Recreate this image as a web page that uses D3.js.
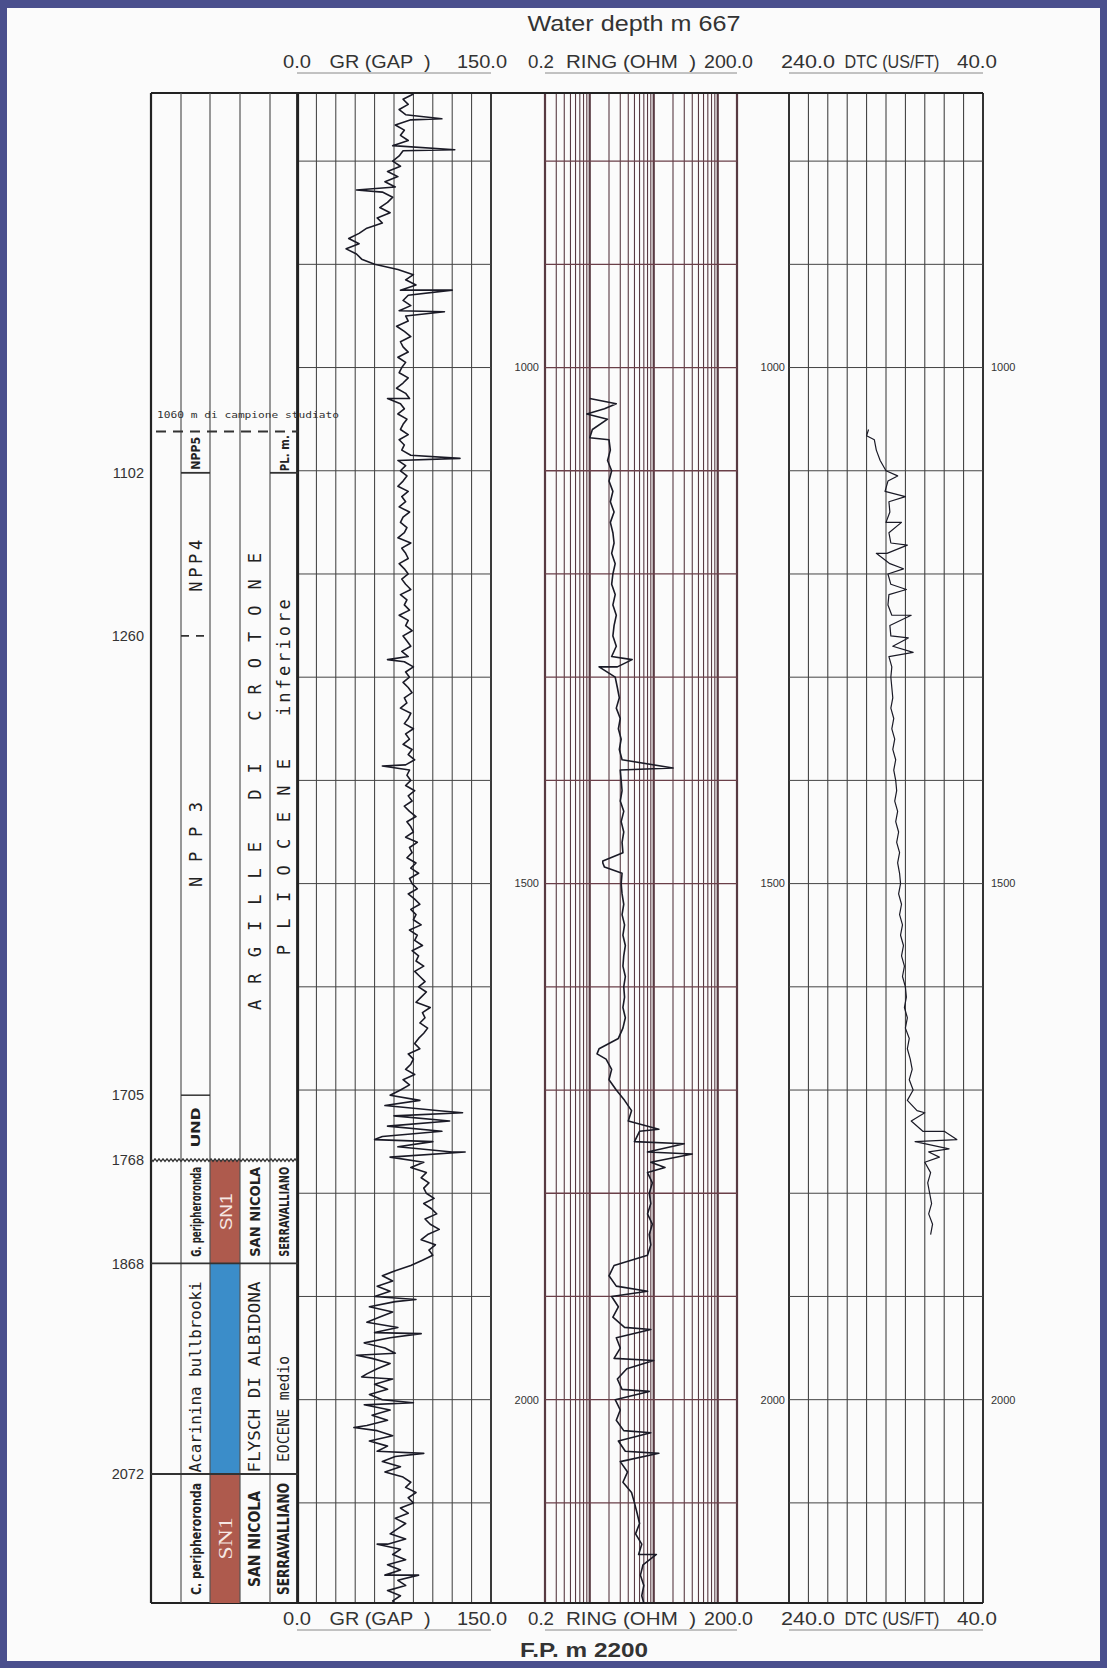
<!DOCTYPE html>
<html>
<head>
<meta charset="UTF-8" />
<script src="https://d3js.org/d3.v7.min.js"></script>
<style>
  body { margin: 0; background: #fff; }
  svg { display: block; }
  text { white-space: pre; }
</style>
</head>
<body>
<div id="chart"></div>
<script>
var W = 1107, H = 1668;

// ---- data -------------------------------------------------------------
const depthTop = 734, depthBottom = 2197;
const depthGrid = d3.range(800, 2200, 100);
const depthLabels = [1000, 1500, 2000];
const markerDepths = [1102, 1260, 1705, 1768, 1868, 2072];

// GR (GAPI), sampled every 5 m from 735 to 2200
const grDepth = d3.range(735, 2201, 5);
const grValues = [
  90, 82, 86, 79, 84, 88, 76, 83, 80, 86, 74, 82, 79,
  74, 80, 70, 78, 68, 76, 66, 74, 70, 64, 72, 62, 66, 54, 48, 40, 48, 38, 46, 50,
  60, 78, 90, 84, 92, 80, 86, 82, 88, 79, 84, 86, 77, 83, 88, 80, 82, 86, 78, 84,
  81, 79, 86, 82, 77, 84, 87, 80, 83, 78, 85, 82, 80, 86, 79, 83, 81, 88, 78, 84,
  80, 85, 82, 78, 86, 81, 84, 79, 87, 82, 80, 85, 83, 78, 88, 81, 84, 86, 79, 83,
  86, 81, 84, 88, 80, 85, 83, 87, 79, 86, 84, 89, 82, 85, 88, 81, 86, 83, 90, 84,
  87, 82, 86, 89, 83, 85, 80, 88, 86, 83, 90, 84, 87, 82, 89, 86, 91, 84, 87, 85,
  88, 84, 91, 86, 89, 83, 87, 92, 85, 88, 90, 84, 93, 87, 89, 85, 92, 88, 94, 87,
  89, 93, 86, 91, 95, 88, 92, 90, 96, 87, 93, 91, 97, 89, 94, 92, 98, 91, 95, 99,
  94, 100, 96, 92, 103, 97, 99, 95, 101, 98, 94, 91, 95, 86, 90, 88, 84, 91, 82, 87,
  80, 72, 95, 68, 110, 75, 118, 70, 112, 66, 105, 78, 120, 72, 98, 88, 100, 96, 102, 98,
  100, 106, 98, 104, 108, 99, 103, 110, 101, 96, 107, 102, 105, 97, 88, 76, 66, 74, 62, 72,
  60, 76, 56, 74, 64, 54, 78, 60, 72, 52, 68, 76, 58, 72, 62, 54, 74, 60, 70, 56,
  66, 52, 72, 58, 70, 54, 62, 74, 56, 70, 62, 76, 66, 80, 68, 82, 88, 84, 92, 86,
  90, 80, 86, 76, 84, 78, 72, 84, 70, 80, 74, 84, 70, 80, 68, 78, 84, 70, 80, 74,
  78
];
const grSpikes = [[759, 112], [789, 122], [828, 46], [925, 120], [946, 114], [1030, 70],
  [1088, 126], [1283, 70], [1386, 66], [1722, 128], [1748, 60], [1760, 130], [1903, 92],
  [1936, 96], [1957, 46], [1978, 50], [2003, 90], [2027, 44], [2052, 98], [2140, 62], [2170, 94]];

// RING (ohm), sampled every 10 m from 1030 to 2200
const ringDepth = d3.range(1030, 2201, 10);
const ringValues = [
  1.0, 1.7, 1.9, 1.1, 2.0, 2.1, 1.9, 2.2,
  2.0, 2.3, 2.1, 2.4, 2.1, 2.3, 2.4, 2.2, 2.5, 2.3,
  2.2, 2.5, 2.3, 2.6, 2.4, 2.3, 2.6, 2.2, 2.7, 2.5,
  2.7, 2.9, 2.6, 3.0, 2.8, 3.1, 2.9, 3.2, 3.0, 3.1,
  3.2, 3.0, 3.4, 3.1, 3.4, 3.2, 3.3, 1.6, 3.2, 3.1,
  3.2, 3.4, 3.2, 3.5, 3.3, 3.6, 3.4, 3.3, 3.6, 3.4,
  3.5, 3.3, 3.6, 3.3, 2.8, 1.4, 1.8, 2.2, 2.0, 2.6,
  3.5, 4.5, 4.0, 6.0, 5.0, 8.0, 9.0, 8.0, 9.5, 8.5,
  9.0, 8.0, 9.5, 8.5, 9.0, 8.0, 2.4, 2.0, 2.6, 2.2,
  2.8, 2.3, 3.5, 2.6, 3.0, 2.4, 3.8, 2.7, 3.2, 2.5,
  3.0, 2.6, 3.4, 2.8, 3.6, 3.0, 3.9, 3.3, 4.5, 5.0,
  5.5, 6.0, 5.2, 6.5, 5.8, 6.8, 6.2, 7.0, 6.5, 7.2
];
const ringSpikes = [[1035, 2.6], [1045, 0.9], [1068, 1.0], [1283, 4.6], [1290, 1.4],
  [1388, 20], [1478, 1.6], [1484, 1.7], [1665, 1.3], [1738, 12], [1752, 30], [1762, 40],
  [1775, 15], [1895, 8], [1932, 9], [1962, 10], [1992, 8.5], [2032, 9], [2052, 12], [2150, 11]];

// DTC (us/ft), sampled every 10 m from 1060 to 1840
const dtcDepth = d3.range(1060, 1841, 10);
const dtcValues = [
  158, 152, 150, 146, 140,
  138, 141, 137, 136, 140, 137, 135, 139, 136, 138,
  135, 137, 138, 134, 136, 135, 133, 137, 134, 135,
  134, 133, 135, 132, 134, 131, 133, 130, 132, 130,
  129, 131, 128, 130, 127, 129, 126, 128, 126, 125,
  127, 124, 126, 123, 125, 122, 124, 121, 123, 120,
  119, 121, 118, 120, 116, 118, 115, 113, 116, 112,
  118, 108, 114, 102, 110, 96, 100, 94, 97, 95,
  93, 96, 92, 94
];
const dtcSpikes = [[1066, 160], [1105, 128], [1125, 120], [1150, 124], [1172, 118], [1180, 150],
  [1195, 122], [1215, 119], [1240, 114], [1262, 117], [1276, 112], [1722, 100], [1740, 80],
  [1748, 67], [1757, 75], [1765, 85]];

// stratigraphy columns
const bioNames = ["NPP5", "NPP4", "N P P 3", "UND", "G. peripheroronda", "Acarinina bullbrooki", "C. peripheroronda"];
const bioMid = [1083, 1192, 1462, 1736, 1818, 1978, 2135];
const seqNames = ["SN1", "", "SN1"];
const seqTop = [1768, 1868, 2072];
const seqBase = [1868, 2072, 2197];
const formNames = ["A R G I L L E   D I   C R O T O N E", "SAN NICOLA", "FLYSCH DI ALBIDONA", "SAN NICOLA"];
const formMid = [1401, 1818, 1978, 2135];
const ageNames = ["PL. m.", "P L I O C E N E   inferiore", "SERRAVALLIANO", "EOCENE medio", "SERRAVALLIANO"];
const ageMid = [1083, 1397, 1818, 2009, 2135];
const sampleTop = 1062;

const trackHeaders = [["0.0", "GR (GAP  )", "150.0"], ["0.2", "RING (OHM  )", "200.0"], ["240.0", "DTC (US/FT)", "40.0"]];

// ---- layout -----------------------------------------------------------
var svg = d3.select("#chart").append("svg").attr("width", W).attr("height", H);
svg.append("rect").attr("width", W).attr("height", H).attr("fill", "#4a4f8d");
svg.append("rect").attr("x", 7).attr("y", 8).attr("width", W - 14).attr("height", H - 15).attr("fill", "#fbfbfb");

var y = d3.scaleLinear().domain([depthTop, depthBottom]).range([93, 1603]);
var xGR = d3.scaleLinear().domain([0, 150]).range([297, 491]);
var xRing = d3.scaleLog().domain([0.2, 200]).range([545, 737]);
var xDTC = d3.scaleLinear().domain([240, 40]).range([789, 983]);
var colX = [151, 181, 210, 240, 270, 298];
var font = "'Liberation Sans', Arial, sans-serif";
var mono = "'DejaVu Sans Mono', 'Liberation Mono', monospace";
var narrow = "'Liberation Sans Narrow', 'DejaVu Sans Condensed', 'Liberation Sans', sans-serif";

// clip paths for each track
var defs = svg.append("defs");
[["clipGR", xGR], ["clipRing", xRing], ["clipDTC", xDTC]].forEach(function (c) {
  var r = c[1].range();
  defs.append("clipPath").attr("id", c[0]).append("rect")
    .attr("x", r[0]).attr("y", y.range()[0]).attr("width", r[1] - r[0]).attr("height", y.range()[1] - y.range()[0]);
});

// ---- grids ------------------------------------------------------------
function hGrid(scale, color, w) {
  var r = scale.range();
  svg.append("g").selectAll("line").data(depthGrid).join("line")
    .attr("x1", r[0]).attr("x2", r[1])
    .attr("y1", d => y(d)).attr("y2", d => y(d))
    .attr("stroke", color).attr("stroke-width", w);
}

// GR grid
svg.append("g").selectAll("line").data(d3.range(0, 151, 15)).join("line")
  .attr("x1", d => xGR(d)).attr("x2", d => xGR(d))
  .attr("y1", y.range()[0]).attr("y2", y.range()[1])
  .attr("stroke", "#3a3a3a").attr("stroke-width", d => (d === 0 || d === 150) ? 2 : 1);
hGrid(xGR, "#444", 1);

// RING grid (log)
svg.append("g").selectAll("line").data(xRing.ticks()).join("line")
  .attr("x1", d => xRing(d)).attr("x2", d => xRing(d))
  .attr("y1", y.range()[0]).attr("y2", y.range()[1])
  .attr("stroke", "#583a42")
  .attr("stroke-width", d => [0.2, 1, 10, 100, 200].includes(d) ? 2.2 : 1.1);
hGrid(xRing, "#6a3f48", 1.3);

// DTC grid
svg.append("g").selectAll("line").data(d3.range(40, 241, 20)).join("line")
  .attr("x1", d => xDTC(d)).attr("x2", d => xDTC(d))
  .attr("y1", y.range()[0]).attr("y2", y.range()[1])
  .attr("stroke", "#333").attr("stroke-width", d => (d === 40 || d === 240) ? 2 : 1);
hGrid(xDTC, "#444", 1);

// continuous top / bottom borders
[y.range()[0], y.range()[1]].forEach(function (yy) {
  svg.append("line").attr("x1", colX[0]).attr("x2", xDTC.range()[1])
    .attr("y1", yy).attr("y2", yy).attr("stroke", "#222").attr("stroke-width", 2.2);
});

// depth labels beside tracks
[[xRing.range()[0] - 6, "end"], [xDTC.range()[0] - 4, "end"], [xDTC.range()[1] + 8, "start"]].forEach(function (p) {
  svg.append("g").selectAll("text").data(depthLabels).join("text")
    .attr("x", p[0]).attr("y", d => y(d)).attr("dy", "0.35em")
    .attr("text-anchor", p[1]).style("font-family", font).style("font-size", "11px")
    .attr("fill", "#333").text(d => d);
});

// ---- curves -----------------------------------------------------------
function mergeCurve(depths, values, spikes) {
  var pts = depths.map((d, i) => ({ d: d, v: values[i] }));
  spikes.forEach(s => pts.push({ d: s[0], v: s[1] }));
  return pts.sort((a, b) => a.d - b.d);
}
function drawCurve(pts, xs, clip, w) {
  svg.append("path").datum(pts)
    .attr("clip-path", "url(#" + clip + ")")
    .attr("fill", "none").attr("stroke", "#1a1a26").attr("stroke-width", w)
    .attr("stroke-linejoin", "round")
    .attr("d", d3.line().x(p => xs(p.v)).y(p => y(p.d)));
}
drawCurve(mergeCurve(grDepth, grValues, grSpikes), xGR, "clipGR", 1.6);
drawCurve(mergeCurve(ringDepth, ringValues, ringSpikes), xRing, "clipRing", 1.6);
drawCurve(mergeCurve(dtcDepth, dtcValues, dtcSpikes), xDTC, "clipDTC", 1.2);

// ---- stratigraphic columns ---------------------------------------------
// colour fills of sequence column
seqNames.forEach(function (n, i) {
  svg.append("rect").attr("x", colX[2]).attr("y", y(seqTop[i]))
    .attr("width", colX[3] - colX[2]).attr("height", y(seqBase[i]) - y(seqTop[i]))
    .attr("fill", n === "SN1" ? "#ae5a4d" : "#3b8dc9");
});

// column verticals
svg.append("g").selectAll("line").data(colX).join("line")
  .attr("x1", d => d).attr("x2", d => d)
  .attr("y1", y.range()[0]).attr("y2", y.range()[1])
  .attr("stroke", (d, i) => (i === 0 || i === 5) ? "#222" : "#555")
  .attr("stroke-width", (d, i) => (i === 0 || i === 5) ? 2.2 : 1.2);

// horizontal boundaries
function hline(x1, x2, depth, w) {
  svg.append("line").attr("x1", x1).attr("x2", x2).attr("y1", y(depth)).attr("y2", y(depth))
    .attr("stroke", "#333").attr("stroke-width", w || 1.5);
}
hline(colX[1], colX[2], markerDepths[0], 1.8);
hline(colX[4], colX[5], markerDepths[0], 1.8);
hline(colX[1], colX[2], markerDepths[2], 1.5);
hline(colX[0], colX[5], markerDepths[4], 1.8);
hline(colX[0], colX[5], markerDepths[5], 1.8);
// dashed marks at 1260
svg.append("line").attr("x1", colX[1]).attr("x2", colX[2]).attr("y1", y(markerDepths[1])).attr("y2", y(markerDepths[1]))
  .attr("stroke", "#333").attr("stroke-width", 1.8).attr("stroke-dasharray", "8,7");
// wavy unconformity at 1768
var wav = d3.range(colX[0], colX[5] + 0.1, 2).map((x, i) => [x, y(markerDepths[3]) + (i % 2 ? 1.3 : -1.3)]);
svg.append("path").attr("d", d3.line()(wav)).attr("fill", "none").attr("stroke", "#333").attr("stroke-width", 1.3);

// dashed line of studied sample
svg.append("line").attr("x1", colX[0] + 5).attr("x2", colX[5]).attr("y1", y(sampleTop)).attr("y2", y(sampleTop))
  .attr("stroke", "#333").attr("stroke-width", 2).attr("stroke-dasharray", "10,7");
svg.append("text").attr("x", colX[0] + 6).attr("y", y(sampleTop) - 14)
  .style("font-family", mono).style("font-size", "9.5px").attr("fill", "#333")
  .attr("textLength", 182).attr("lengthAdjust", "spacingAndGlyphs")
  .text("1060 m di campione studiato");

// marker depth labels
svg.append("g").selectAll("text").data(markerDepths).join("text")
  .attr("x", 144).attr("y", d => y(d)).attr("dy", "0.35em").attr("text-anchor", "end")
  .style("font-family", font).style("font-size", "14.5px").attr("fill", "#333").text(d => d);

function vlabel(x, depth, txt, o) {
  svg.append("text")
    .attr("transform", "translate(" + x + "," + y(depth) + ") rotate(-90)")
    .attr("text-anchor", "middle").attr("dominant-baseline", "central")
    .style("font-family", o.font).style("font-size", o.size + "px")
    .style("font-weight", o.weight || "normal")
    .attr("textLength", o.len).attr("lengthAdjust", o.adj || "spacingAndGlyphs")
    .attr("fill", o.fill || "#222").text(txt);
}
var cx = i => (colX[i] + colX[i + 1]) / 2;

var bioStyle = [
  { font: narrow, size: 13, weight: "bold", len: 33 },
  { font: mono, size: 17, len: 52, adj: "spacing" },
  { font: mono, size: 17, len: 85, adj: "spacing" },
  { font: mono, size: 13, weight: "bold", len: 40 },
  { font: narrow, size: 14, weight: "bold", len: 90 },
  { font: mono, size: 15, len: 191 },
  { font: narrow, size: 14, weight: "bold", len: 112 }
];
bioNames.forEach((n, i) => vlabel(cx(1), bioMid[i], n, bioStyle[i]));

seqNames.forEach(function (n, i) {
  if (!n) return;
  var mid = (seqTop[i] + seqBase[i]) / 2;
  vlabel(cx(2) + 1, mid, n, i === 0
    ? { font: font, size: 16, len: 37, fill: "#f6e8e4" }
    : { font: "'Liberation Serif', serif", size: 18, len: 42, fill: "#f6e8e4" });
});

var formStyle = [
  { font: mono, size: 17, len: 457, adj: "spacing" },
  { font: narrow, size: 14, weight: "bold", len: 90 },
  { font: mono, size: 15, len: 191 },
  { font: narrow, size: 15, weight: "bold", len: 96 }
];
formNames.forEach((n, i) => vlabel(cx(3), formMid[i], n, formStyle[i]));

var ageStyle = [
  { font: narrow, size: 13, weight: "bold", len: 36 },
  { font: mono, size: 17, len: 356, adj: "spacing" },
  { font: narrow, size: 14, weight: "bold", len: 90 },
  { font: mono, size: 15, len: 106 },
  { font: narrow, size: 15, weight: "bold", len: 112 }
];
ageNames.forEach((n, i) => vlabel(cx(4), ageMid[i], n, ageStyle[i]));

// ---- headers ----------------------------------------------------------
var hdr = [
  { s: xGR, l: -14, c: 380, r: 16, nameLen: 101, rLen: 50, lLen: 28 },
  { s: xRing, l: -17, c: 631, r: 16, nameLen: 130, rLen: 49, lLen: 26 },
  { s: xDTC, l: -8, c: 892, r: 14, nameLen: 95, rLen: 40, lLen: 54 }
];
[68, 1625].forEach(function (base) {
  hdr.forEach(function (h, i) {
    var r = h.s.range();
    var g = svg.append("g").style("font-family", font).style("font-size", "18px").attr("fill", "#333");
    g.append("text").attr("x", r[0] + h.l).attr("y", base).attr("textLength", h.lLen)
      .attr("lengthAdjust", "spacingAndGlyphs").text(trackHeaders[i][0]);
    g.append("text").attr("x", h.c).attr("y", base).attr("text-anchor", "middle")
      .attr("textLength", h.nameLen).attr("lengthAdjust", "spacingAndGlyphs").text(trackHeaders[i][1]);
    g.append("text").attr("x", r[1] + h.r).attr("y", base).attr("text-anchor", "end")
      .attr("textLength", h.rLen).attr("lengthAdjust", "spacingAndGlyphs").text(trackHeaders[i][2]);
    svg.append("line").attr("x1", r[0]).attr("x2", r[1]).attr("y1", base + 5).attr("y2", base + 5)
      .attr("stroke", "#888").attr("stroke-width", 1);
  });
});

svg.append("text").attr("x", 634).attr("y", 31).attr("text-anchor", "middle")
  .style("font-family", font).style("font-size", "22px").attr("fill", "#333")
  .attr("textLength", 213).attr("lengthAdjust", "spacingAndGlyphs").text("Water depth m 667");
svg.append("text").attr("x", 584).attr("y", 1657).attr("text-anchor", "middle")
  .style("font-family", font).style("font-size", "20px").style("font-weight", "bold").attr("fill", "#333")
  .attr("textLength", 128).attr("lengthAdjust", "spacingAndGlyphs").text("F.P. m 2200");
</script>
</body>
</html>
